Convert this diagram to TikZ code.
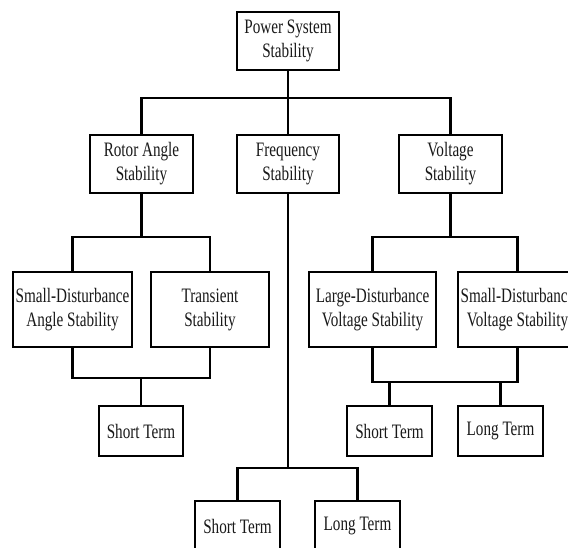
\documentclass[tikz,border=0pt]{standalone}
\usepackage{fontspec}
\setmainfont[FakeStretch=0.74]{Liberation Serif}
\begin{document}
\begin{tikzpicture}[x=1pt,y=-1pt,
  box/.style={draw=black, line width=2.8pt, rectangle, inner sep=0pt, align=center,
    font=\fontsize{20.5}{24}\selectfont, text=black!90},
  conn/.style={draw=black, line width=2.4pt}]
\useasboundingbox (0,0) rectangle (568,548);
\clip (0,0) rectangle (568,548);
\fill[white] (0,0) rectangle (568,548);
% nodes
\node[box, minimum width=102pt, minimum height=58pt] (top) at (288,41) {Power System\\Stability};
\node[box, minimum width=103pt, minimum height=58pt] (rotor) at (141.5,164) {Rotor Angle\\Stability};
\node[box, minimum width=102pt, minimum height=58pt] (freq) at (288,164) {Frequency\\Stability};
\node[box, minimum width=103pt, minimum height=58pt] (volt) at (450.5,164) {Voltage\\Stability};
\node[box, minimum width=119pt, minimum height=75pt] (sda) at (72.5,309.5) {Small-Disturbance\\Angle Stability};
\node[box, minimum width=118pt, minimum height=75pt] (trans) at (210,309.5) {Transient\\Stability};
\node[box, minimum width=127pt, minimum height=75pt] (ldv) at (372.5,309.5) {Large-Disturbance\\Voltage Stability};
\node[box, minimum width=119pt, minimum height=75pt] (sdv) at (517.5,309.5) {Small-Disturbance\\Voltage Stability};
\node[box, minimum width=84pt, minimum height=50pt] (st1) at (141,431) {Short Term};
\node[box, minimum width=85pt, minimum height=50pt] (st2) at (389.5,431) {Short Term};
\node[box, minimum width=85pt, minimum height=50pt] (lt2) at (500.5,431) {Long Term};
\node[box, minimum width=85pt, minimum height=50pt] (st3) at (237.5,526) {Short Term};
\node[box, minimum width=85pt, minimum height=50pt] (lt3) at (357.5,526) {Long Term};
% junctions
\coordinate (j1) at (288,98);
\coordinate (j2) at (141.5,237);
\coordinate (j3) at (141,378);
\coordinate (j4) at (450.5,237);
\coordinate (j5) at (389.5,382);
\coordinate (j6) at (288,468);
% connectors
\draw[conn] (top.south) -- (j1);
\draw[conn] (rotor.north) |- (j1) -| (volt.north);
\draw[conn] (freq.north) -- (j1);
\draw[conn] (rotor.south) -- (j2);
\draw[conn] (sda.north) |- (j2) -| (trans.north);
\draw[conn] (sda.south) |- (j3) -| (trans.south);
\draw[conn] (st1.north) -- (j3);
\draw[conn] (volt.south) -- (j4);
\draw[conn] (ldv.north) |- (j4) -| (sdv.north);
\draw[conn] (ldv.south) |- (j5) -| (sdv.south);
\draw[conn] (st2.north) -- (j5);
\draw[conn] (lt2.north) -- (lt2.north |- j5);
\draw[conn] (freq.south) -- (j6);
\draw[conn] (st3.north) |- (j6) -| (lt3.north);
\end{tikzpicture}
\end{document}
